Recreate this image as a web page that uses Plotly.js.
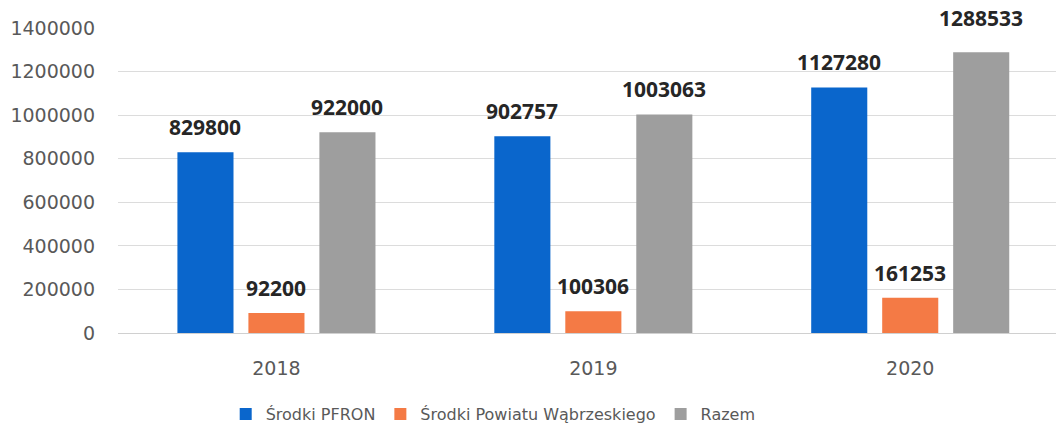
<!DOCTYPE html>
<html>
<head>
<meta charset="utf-8">
<script src="https://cdn.plot.ly/plotly-3.0.1.min.js"></script>
<style>html,body{margin:0;padding:0;background:#fff;}#chart{width:1056px;height:429px;}</style>
</head>
<body>
<div id="chart"></div>
<script>
const years = ['2018', '2019', '2020'];
const seriesNames = ['Środki PFRON', 'Środki Powiatu Wąbrzeskiego', 'Razem'];
const pfron = [829800, 902757, 1127280];
const powiat = [92200, 100306, 161253];
const razem = [922000, 1003063, 1288533];
const colors = ['#0A66CC', '#F47A45', '#9E9E9E'];
const yTicks = [0, 200000, 400000, 600000, 800000, 1000000, 1200000, 1400000];

const allSeries = [pfron, powiat, razem];
const traces = allSeries.map((vals, i) => ({
  type: 'bar',
  name: seriesNames[i],
  x: years,
  y: vals,
  marker: {color: colors[i]},
  hoverinfo: 'skip'
}));

const shifts = [-71, 0, 71];
const annotations = [];
allSeries.forEach((vals, i) => {
  vals.forEach((v, j) => {
    annotations.push({
      x: j, y: v, xref: 'x', yref: 'y',
      text: '<b>' + String(v) + '</b>', showarrow: false,
      xshift: shifts[i], yshift: (v > 1250000 ? 18 : 9),
      yanchor: 'bottom', xanchor: 'center',
      font: {family: 'Open Sans', size: 21, color: '#262626'}
    });
  });
});

const layout = {
  width: 1056, height: 429,
  margin: {l: 118, r: 0, t: 28, b: 96, pad: 0, autoexpand: false},
  paper_bgcolor: '#ffffff', plot_bgcolor: '#ffffff',
  barmode: 'group', bargap: 0.328, bargroupgap: 0.21,
  font: {family: 'DejaVu Sans', color: '#595959'},
  xaxis: {
    type: 'category', range: [-0.5, 2.46],
    showgrid: false, showline: false, zeroline: false, ticks: '',
    tickfont: {family: 'DejaVu Sans', size: 19, color: '#595959'},
    ticklabelstandoff: 22, fixedrange: true
  },
  yaxis: {
    range: [0, 1400000], tickvals: yTicks, ticktext: yTicks.map(String),
    showgrid: true, gridcolor: '#DCDCDC', gridwidth: 1,
    zeroline: true, zerolinecolor: '#D0D0D0', zerolinewidth: 1,
    showline: false, ticks: '',
    tickfont: {family: 'DejaVu Sans', size: 19, color: '#595959'},
    ticklabelstandoff: 22, fixedrange: true
  },
  legend: {
    orientation: 'h', x: 0.4, xanchor: 'center',
    yref: 'container', y: 0.035, yanchor: 'middle',
    font: {family: 'DejaVu Sans', size: 16, color: '#595959'}, itemwidth: 30, traceorder: 'normal'
  },
  annotations: annotations,
  showlegend: true
};

Plotly.newPlot('chart', traces, layout, {displayModeBar: false, staticPlot: true});
</script>
</body>
</html>
